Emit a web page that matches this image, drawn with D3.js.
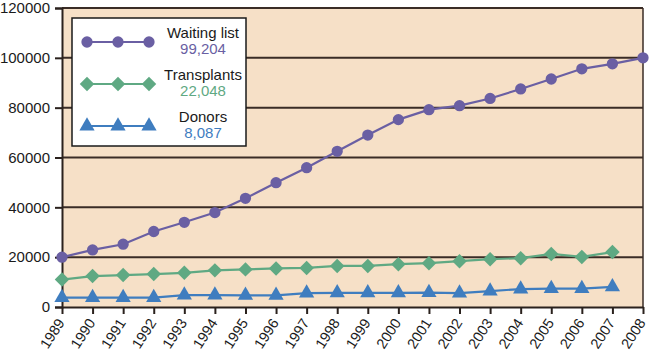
<!DOCTYPE html>
<html>
<head>
<meta charset="utf-8">
<script src="https://cdn.jsdelivr.net/npm/d3@7"></script>
<style>
  html, body { margin: 0; padding: 0; background: #ffffff; }
  svg { display: block; font-family: "Liberation Sans", Arial, Helvetica, sans-serif; }
</style>
</head>
<body>
<svg id="chart" width="650" height="352"></svg>
<script>
const years = [1989,1990,1991,1992,1993,1994,1995,1996,1997,1998,1999,2000,2001,2002,2003,2004,2005,2006,2007,2008];
const waitingList = [20000,22900,25200,30300,34000,37900,43600,49900,55900,62500,69000,75200,79200,80800,83700,87500,91500,95600,97600,100000];
const transplants = [11000,12400,12800,13200,13700,14700,15100,15500,15700,16500,16500,17200,17600,18400,19200,19600,21300,20100,22048];
const donors = [3800,3800,3800,3800,4800,4800,4700,4700,5600,5700,5700,5700,5800,5600,6400,7200,7400,7400,8087];
const yTicks = [0,20000,40000,60000,80000,100000,120000];
const legendLabels = ["Waiting list","Transplants","Donors"];
const legendValues = ["99,204","22,048","8,087"];

const colors = ["#6a5fa3", "#5fa983", "#3f7dbf"];
const series = [waitingList, transplants, donors];
const symbols = [d3.symbolCircle, d3.symbolSquare, d3.symbolTriangle];
const symSizes = [100, 105, 100];
const symRot = [0, 45, 0];

const svg = d3.select("#chart");
const pLeft = 62, pRight = 643, pTop = 8, pBottom = 307;

const x = d3.scalePoint().domain(years).range([pLeft, pRight]);
const y = d3.scaleLinear().domain([0, 120000]).range([pBottom, pTop]);

// plot background
svg.append("rect").attr("x", pLeft).attr("y", pTop)
  .attr("width", pRight - pLeft).attr("height", pBottom - pTop)
  .attr("fill", "#f6e0c7");

// gridlines
svg.append("g").selectAll("line").data(yTicks.filter(d => d > 0)).join("line")
  .attr("x1", pLeft).attr("x2", pRight)
  .attr("y1", d => y(d)).attr("y2", d => y(d))
  .attr("stroke", "#3a2c26").attr("stroke-width", 2);

// right border
svg.append("line").attr("x1", pRight).attr("x2", pRight).attr("y1", pTop).attr("y2", pBottom)
  .attr("stroke", "#3a2c26").attr("stroke-width", 1.5);

// y axis
const yAxis = d3.axisLeft(y).tickValues(yTicks).tickSize(7).tickPadding(5).tickFormat(d3.format("d"));
const gy = svg.append("g").attr("transform", `translate(${pLeft},0)`).call(yAxis);
gy.select(".domain").attr("stroke", "#2a211d").attr("stroke-width", 2);
gy.selectAll(".tick line").attr("stroke", "#2a211d").attr("stroke-width", 2);
gy.selectAll(".tick text").attr("font-size", 15).attr("fill", "#1a1a1a")
  .attr("font-family", "'Liberation Sans', Arial, sans-serif");

// x axis
const xAxis = d3.axisBottom(x).tickSize(7).tickSizeOuter(0).tickPadding(4);
const gx = svg.append("g").attr("transform", `translate(0,${pBottom})`).call(xAxis);
gx.select(".domain").attr("stroke", "#2a211d").attr("stroke-width", 2);
gx.selectAll(".tick line").attr("stroke", "#2a211d").attr("stroke-width", 2);
gx.selectAll(".tick text")
  .attr("font-size", 14.5).attr("fill", "#1a1a1a")
  .attr("font-family", "'Liberation Sans', Arial, sans-serif")
  .attr("text-anchor", "end")
  .attr("x", 0).attr("y", 0)
  .attr("dy", "0.35em")
  .attr("transform", "translate(-1.5,13) rotate(-57)");

// lines and markers
series.forEach((vals, i) => {
  const pts = vals.map((v, j) => [years[j], v]);
  svg.append("path").datum(pts)
    .attr("fill", "none").attr("stroke", colors[i]).attr("stroke-width", 2.2)
    .attr("d", d3.line().x(d => x(d[0])).y(d => y(d[1])));
  svg.append("g").selectAll("path").data(pts).join("path")
    .attr("transform", d => `translate(${x(d[0])},${y(d[1])}) rotate(${symRot[i]})`)
    .attr("d", d3.symbol().type(symbols[i]).size(symSizes[i]))
    .attr("fill", colors[i]);
});

// legend
const lg = svg.append("g");
lg.append("rect").attr("x", 72).attr("y", 18).attr("width", 174).attr("height", 128)
  .attr("fill", "#ffffff").attr("stroke", "#1a1a1a").attr("stroke-width", 1.5);
const rowY = [42, 84, 126];
legendLabels.forEach((lab, i) => {
  const ry = rowY[i];
  lg.append("line").attr("x1", 87).attr("x2", 149).attr("y1", ry).attr("y2", ry)
    .attr("stroke", colors[i]).attr("stroke-width", 2);
  [87, 118, 149].forEach(mx => {
    lg.append("path").attr("transform", `translate(${mx},${ry}) rotate(${symRot[i]})`)
      .attr("d", d3.symbol().type(symbols[i]).size(symSizes[i]))
      .attr("fill", colors[i]);
  });
  lg.append("text").attr("x", 203).attr("y", ry - 4.5).attr("text-anchor", "middle")
    .attr("font-size", 15).attr("fill", "#1a1a1a").text(lab);
  lg.append("text").attr("x", 203).attr("y", ry + 12).attr("text-anchor", "middle")
    .attr("font-size", 15).attr("fill", colors[i]).text(legendValues[i]);
});
</script>
</body>
</html>
